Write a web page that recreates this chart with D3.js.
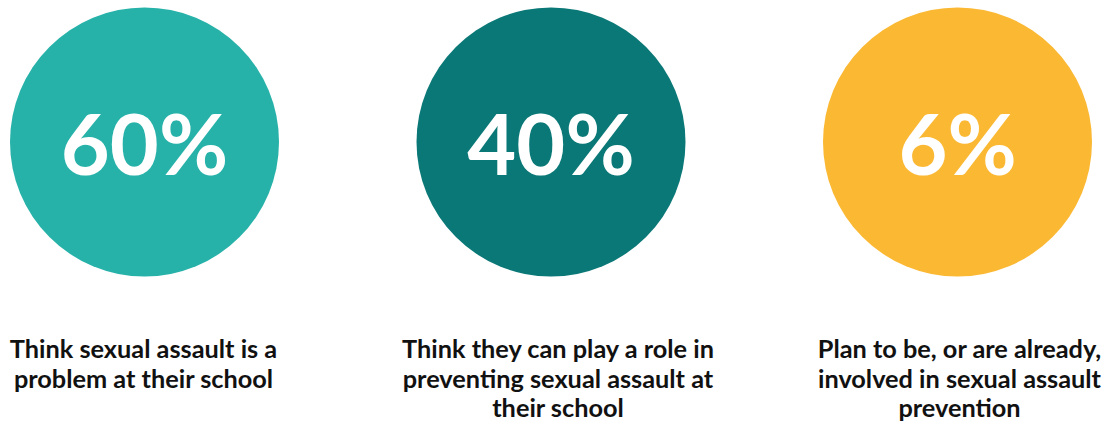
<!DOCTYPE html>
<html>
<head>
<meta charset="utf-8">
<script src="https://cdn.jsdelivr.net/npm/d3@7"></script>
<style>
  html, body { margin: 0; padding: 0; background: #fff; }
  svg { display: block; font-family: Lato, "Open Sans", sans-serif; }
</style>
</head>
<body>
<div id="chart"></div>
<script>
// data
var categories = ["problem", "prevent", "involved"];
var percents = [60, 40, 6];
var colors = ["#27b2a9", "#0a7876", "#fbb833"];
var labels = [
    ["Think sexual assault is a", "problem at their school"],
    ["Think they can play a role in", "preventing sexual assault at", "their school"],
    ["Plan to be, or are already,", "involved in sexual assault", "prevention"]
];

var width = 1107;
var height = 423;
var radius = 134.5;
var cy = 142;
var labelShift = [-1, 7, 2];
var lineHeight = 29.5;

var x = d3.scalePoint()
    .domain(categories)
    .range([144.5, 957.5]);

var svg = d3.select("#chart")
    .append("svg")
    .attr("width", width)
    .attr("height", height);

var g = svg.selectAll(".item")
    .data(categories)
    .enter().append("g")
    .attr("class", "item")
    .attr("transform", d => "translate(" + x(d) + "," + cy + ")");

g.append("circle")
    .attr("r", radius)
    .attr("fill", (d, i) => colors[i]);

g.append("text")
    .attr("text-anchor", "middle")
    .attr("y", 33)
    .attr("fill", "#fff")
    .style("font-size", "84.5px")
    .style("font-weight", 700)
    .text((d, i) => percents[i] + "%");

var lab = g.append("text")
    .attr("text-anchor", "middle")
    .attr("fill", "#111")
    .style("font-size", "25.3px")
    .style("font-weight", 700);

lab.selectAll("tspan")
    .data((d, i) => labels[i].map(t => ({ t: t, i: i })))
    .enter().append("tspan")
    .attr("x", d => labelShift[d.i])
    .attr("y", (d, j) => 216 + j * lineHeight)
    .text(d => d.t);
</script>
</body>
</html>
